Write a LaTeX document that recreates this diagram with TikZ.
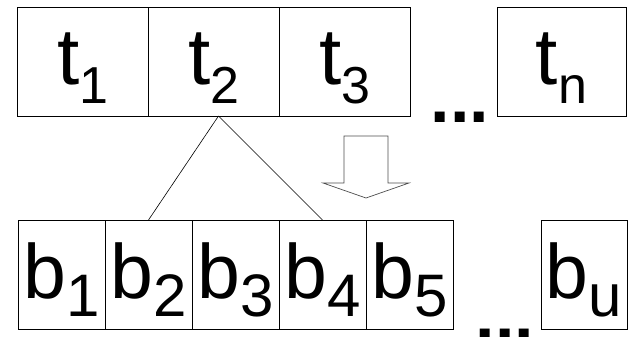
\documentclass[tikz,border=0pt]{standalone}
\usepackage{fontspec}
\setmainfont{Liberation Sans}
\usetikzlibrary{positioning}

% label with a lowered index
\newcommand{\tlabel}[2]{#1{\fontsize{52}{52}\selectfont\raisebox{-18pt}{#2}}}
\newcommand{\blabel}[2]{#1{\fontsize{60}{60}\selectfont\raisebox{-18pt}{#2}}}

\begin{document}
\begin{tikzpicture}[
		x=1pt, y=-1pt,
		line width=0.8pt,
		every node/.style={inner sep=0pt, outer sep=0pt},
		tcell/.style={draw, minimum width=131pt, minimum height=109pt,
			text height=47pt, text depth=0pt, font=\fontsize{80}{80}\selectfont},
		bcell/.style={draw, minimum width=87pt, minimum height=109pt,
			text height=47pt, text depth=0pt, font=\fontsize{77}{77}\selectfont},
		dots/.style={anchor=base, font=\fontsize{70}{70}\selectfont\bfseries},
		link/.style={line width=0.6pt}
		]
		\useasboundingbox (0,0) rectangle (633,337);
		
		% Top row: t cells
		\node[tcell] (t1) at (83,61.5) {\tlabel{t}{1}};
		\node[tcell, right=0pt of t1] (t2) {\tlabel{t}{2}};
		\node[tcell, right=0pt of t2] (t3) {\tlabel{t}{3}};
		\node[dots] (tdots) at (460,123) {...};
		\node[tcell, minimum width=129pt] (tn) at (561.5,61.5) {\tlabel{t}{n}};
		
		% Bottom row: b cells
		\node[bcell] (b1) at (61.5,274.5) {\blabel{b}{1}};
		\node[bcell, right=0pt of b1] (b2) {\blabel{b}{2}};
		\node[bcell, right=0pt of b2] (b3) {\blabel{b}{3}};
		\node[bcell, right=0pt of b3] (b4) {\blabel{b}{4}};
		\node[bcell, right=0pt of b4] (b5) {\blabel{b}{5}};
		\node[dots] (bdots) at (505,339) {...};
		\node[bcell, minimum width=86pt] (bu) at (584,274.5) {\blabel{b}{u}};
		
		% t2 splits into b2..b4
		\draw[link] ([xshift=4.5pt]t2.south) -- (b2.north);
		\draw[link] ([xshift=4.5pt]t2.south) -- (b4.north);
		
		% Block arrow
		\draw[black!70, line width=0.7pt] (344,136) -- (388,136) -- (388,183) -- (409,183)
			-- (366,198) -- (323,183) -- (344,183) -- cycle;
		
	\end{tikzpicture}
\end{document}
